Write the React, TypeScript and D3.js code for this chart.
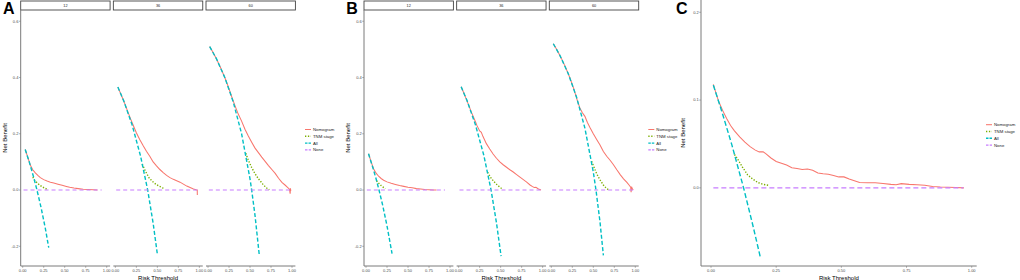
import React from "react";
import * as d3 from "d3";

// ---------- data ----------
const facetLabels = ["12", "36", "60"];
const legendLabels = ["Nomogram", "TNM stage", "All", "None"];
const xTicks = [0, 0.25, 0.5, 0.75, 1];
const xTickLabels = ["0.00", "0.25", "0.50", "0.75", "1.00"];
const yTicksAB = [-0.2, 0, 0.2, 0.4, 0.6];
const yTickLabelsAB = ["-0.2", "0.0", "0.2", "0.4", "0.6"];
const yTicksC = [0, 0.1, 0.2];
const yTickLabelsC = ["0.0", "0.1", "0.2"];

type P = [number, number];

// Panel A
const A12_nomogram: P[] = [[0.03,0.144],[0.06,0.117],[0.09,0.089],[0.12,0.072],[0.15,0.061],[0.18,0.052],[0.21,0.044],[0.25,0.037],[0.29,0.032],[0.33,0.028],[0.37,0.025],[0.42,0.021],[0.47,0.017],[0.52,0.013],[0.56,0.010],[0.61,0.007],[0.66,0.005],[0.72,0.003],[0.78,0.002],[0.84,0.001],[0.89,0.0]];
const A12_tnm: P[] = [[0.12,0.046],[0.14,0.036],[0.17,0.026],[0.20,0.018],[0.23,0.012],[0.26,0.007],[0.29,0.003]];
const A12_all: P[] = [[0.03,0.144],[0.08,0.098],[0.13,0.046],[0.17,0.0],[0.22,-0.064],[0.27,-0.137],[0.31,-0.205]];
const A12_none: P[] = [[0.01,0],[0.94,0]];

const A36_nomogram: P[] = [[0.03,0.366],[0.07,0.338],[0.11,0.309],[0.15,0.277],[0.18,0.254],[0.21,0.232],[0.25,0.204],[0.29,0.180],[0.33,0.158],[0.37,0.138],[0.41,0.120],[0.45,0.100],[0.49,0.086],[0.53,0.073],[0.57,0.062],[0.61,0.052],[0.65,0.044],[0.69,0.038],[0.73,0.033],[0.77,0.028],[0.81,0.021],[0.85,0.014],[0.89,0.009],[0.93,0.004],[0.96,0.001],[0.975,0.0],[0.976,-0.018]];
const A36_tnm: P[] = [[0.32,0.092],[0.36,0.066],[0.40,0.044],[0.44,0.031],[0.48,0.021],[0.52,0.014],[0.56,0.008],[0.59,0.005]];
const A36_all: P[] = [[0.03,0.366],[0.10,0.317],[0.20,0.231],[0.30,0.121],[0.385,0.0],[0.45,-0.118],[0.50,-0.228]];
const A36_none: P[] = [[0.01,0],[0.98,0]];

const A60_nomogram: P[] = [[0.02,0.510],[0.06,0.489],[0.10,0.467],[0.15,0.435],[0.20,0.400],[0.25,0.360],[0.29,0.325],[0.33,0.293],[0.36,0.270],[0.40,0.245],[0.44,0.216],[0.48,0.192],[0.52,0.170],[0.56,0.149],[0.60,0.133],[0.64,0.117],[0.68,0.102],[0.72,0.087],[0.76,0.073],[0.80,0.059],[0.84,0.042],[0.88,0.027],[0.92,0.017],[0.95,0.009],[0.97,0.003],[0.978,-0.013],[0.982,0.006],[0.985,-0.004]];
const A60_tnm: P[] = [[0.45,0.131],[0.48,0.106],[0.52,0.080],[0.56,0.058],[0.60,0.040],[0.65,0.022],[0.69,0.009],[0.73,0.001]];
const A60_all: P[] = [[0.02,0.510],[0.10,0.467],[0.20,0.400],[0.30,0.314],[0.40,0.200],[0.50,0.040],[0.52,0.0],[0.56,-0.091],[0.61,-0.230]];
const A60_none: P[] = [[0.01,0],[0.98,0]];

// Panel B
const B12_nomogram: P[] = [[0.03,0.129],[0.06,0.101],[0.09,0.076],[0.12,0.060],[0.15,0.049],[0.18,0.041],[0.21,0.035],[0.25,0.029],[0.30,0.024],[0.35,0.020],[0.40,0.016],[0.45,0.013],[0.50,0.010],[0.55,0.008],[0.60,0.005],[0.65,0.004],[0.70,0.002],[0.75,0.001],[0.80,0.0],[0.84,0.0]];
const B12_tnm: P[] = [[0.125,0.033],[0.15,0.025],[0.18,0.016],[0.20,0.011],[0.23,0.005]];
const B12_all: P[] = [[0.03,0.129],[0.08,0.081],[0.12,0.040],[0.155,0.0],[0.20,-0.056],[0.25,-0.127],[0.31,-0.226]];
const B12_none: P[] = [[0.01,0],[0.94,0]];

const B36_nomogram: P[] = [[0.03,0.367],[0.07,0.339],[0.11,0.309],[0.15,0.278],[0.19,0.250],[0.22,0.228],[0.25,0.210],[0.27,0.205],[0.29,0.190],[0.33,0.165],[0.37,0.146],[0.41,0.128],[0.45,0.113],[0.49,0.100],[0.53,0.090],[0.57,0.081],[0.61,0.072],[0.65,0.064],[0.69,0.055],[0.73,0.046],[0.77,0.037],[0.81,0.028],[0.85,0.018],[0.88,0.012],[0.90,0.009],[0.92,0.010],[0.95,0.004],[0.98,0.0]];
const B36_tnm: P[] = [[0.345,0.063],[0.38,0.045],[0.42,0.030],[0.46,0.018],[0.50,0.008],[0.525,0.003]];
const B36_all: P[] = [[0.03,0.367],[0.10,0.318],[0.20,0.232],[0.30,0.123],[0.386,0.0],[0.45,-0.116],[0.505,-0.235]];
const B36_none: P[] = [[0.01,0],[0.98,0]];

const B60_nomogram: P[] = [[0.024,0.520],[0.07,0.497],[0.12,0.468],[0.17,0.436],[0.22,0.400],[0.27,0.358],[0.31,0.318],[0.34,0.292],[0.37,0.275],[0.40,0.262],[0.43,0.240],[0.46,0.222],[0.50,0.200],[0.54,0.180],[0.58,0.160],[0.62,0.137],[0.66,0.120],[0.70,0.106],[0.74,0.090],[0.78,0.072],[0.82,0.055],[0.86,0.040],[0.90,0.027],[0.93,0.016],[0.945,0.010],[0.95,-0.008],[0.955,0.012],[0.965,0.004],[0.975,0.0]];
const B60_tnm: P[] = [[0.48,0.102],[0.51,0.080],[0.54,0.058],[0.58,0.036],[0.62,0.018],[0.65,0.008],[0.68,0.001]];
const B60_all: P[] = [[0.024,0.520],[0.10,0.480],[0.20,0.415],[0.30,0.331],[0.40,0.220],[0.50,0.064],[0.532,0.0],[0.58,-0.114],[0.62,-0.232]];
const B60_none: P[] = [[0.01,0],[0.98,0]];

// Panel C
const C_nomogram: P[] = [[0.009,0.118],[0.02,0.107],[0.03,0.098],[0.045,0.088],[0.06,0.079],[0.075,0.071],[0.09,0.065],[0.11,0.058],[0.13,0.052],[0.15,0.047],[0.17,0.043],[0.185,0.041],[0.20,0.041],[0.21,0.039],[0.23,0.034],[0.25,0.030],[0.27,0.028],[0.29,0.026],[0.31,0.023],[0.33,0.022],[0.35,0.021],[0.37,0.0215],[0.39,0.020],[0.41,0.017],[0.43,0.016],[0.45,0.0155],[0.47,0.014],[0.49,0.0125],[0.51,0.0125],[0.53,0.010],[0.55,0.008],[0.57,0.006],[0.60,0.0058],[0.63,0.0058],[0.66,0.005],[0.69,0.004],[0.71,0.0035],[0.73,0.0048],[0.76,0.004],[0.79,0.0035],[0.82,0.003],[0.85,0.0015],[0.88,0.001],[0.91,0.0008],[0.94,0.0005],[0.97,0.0]];
const C_tnm: P[] = [[0.09,0.038],[0.10,0.034],[0.12,0.024],[0.14,0.015],[0.16,0.010],[0.18,0.006],[0.20,0.004],[0.22,0.003]];
const C_all: P[] = [[0.009,0.117],[0.04,0.0885],[0.08,0.049],[0.125,0.0],[0.16,-0.042],[0.19,-0.080]];
const C_none: P[] = [[0.009,0],[0.968,0]];

// ---------- styles ----------
const COLORS = ["#F8766D", "#7CAE00", "#00BFC4", "#C77CFF"];
const FONT = "'Liberation Sans', Arial, sans-serif";
const AXIS = "#7a7a7a";
const TICKTEXT = "#4d4d4d";

type Series = { nomogram: P[]; tnm: P[]; all: P[]; none: P[] };

const seriesA: Series[] = [
  { nomogram: A12_nomogram, tnm: A12_tnm, all: A12_all, none: A12_none },
  { nomogram: A36_nomogram, tnm: A36_tnm, all: A36_all, none: A36_none },
  { nomogram: A60_nomogram, tnm: A60_tnm, all: A60_all, none: A60_none },
];
const seriesB: Series[] = [
  { nomogram: B12_nomogram, tnm: B12_tnm, all: B12_all, none: B12_none },
  { nomogram: B36_nomogram, tnm: B36_tnm, all: B36_all, none: B36_none },
  { nomogram: B60_nomogram, tnm: B60_tnm, all: B60_all, none: B60_none },
];
const seriesC: Series = { nomogram: C_nomogram, tnm: C_tnm, all: C_all, none: C_none };

const dashFor = (k: number, big: boolean) => {
  if (k === 1) return "1.3 1.6";
  if (k === 2) return big ? "5 2.5" : "4 2.2";
  if (k === 3) return big ? "5 3" : "4 3";
  return undefined;
};
const widthFor = (k: number) => (k === 0 ? 1.05 : k === 1 ? 1.4 : k === 2 ? 1.4 : 1.15);

function Lines({ s, x, y, big }: { s: Series; x: any; y: any; big: boolean }) {
  const line = d3.line<P>().x((d) => x(d[0])).y((d) => y(d[1]));
  const arr = [s.nomogram, s.tnm, s.all, s.none];
  return (
    <g>
      {arr.map((d, k) => (
        <path
          key={k}
          d={line(d) || ""}
          fill="none"
          stroke={COLORS[k]}
          strokeWidth={widthFor(k)}
          strokeDasharray={dashFor(k, big)}
        />
      ))}
    </g>
  );
}

function XAxis({ x, y0, left, right }: { x: any; y0: number; left: number; right: number }) {
  return (
    <g>
      <line x1={left} x2={right} y1={y0} y2={y0} stroke={AXIS} strokeWidth={1} />
      {xTicks.map((t, i) => (
        <g key={i}>
          <line x1={x(t)} x2={x(t)} y1={y0} y2={y0 + 1.8} stroke={AXIS} strokeWidth={0.6} />
          <text x={x(t)} y={y0 + 6.3} fontSize={4} fill={TICKTEXT} textAnchor="middle" fontFamily={FONT}>
            {xTickLabels[i]}
          </text>
        </g>
      ))}
    </g>
  );
}

function YAxis({ y, x0, top, bottom, ticks, labels }: any) {
  return (
    <g>
      <line x1={x0} x2={x0} y1={top} y2={bottom} stroke={AXIS} strokeWidth={1} />
      {ticks.map((t: number, i: number) => (
        <g key={i}>
          <line x1={x0 - 1.8} x2={x0} y1={y(t)} y2={y(t)} stroke={AXIS} strokeWidth={0.6} />
          <text x={x0 - 2.3} y={y(t) + 1.4} fontSize={4} fill={TICKTEXT} textAnchor="end" fontFamily={FONT}>
            {labels[i]}
          </text>
        </g>
      ))}
    </g>
  );
}

function Legend({ x, y, big }: { x: number; y: number; big: boolean }) {
  return (
    <g>
      {legendLabels.map((lab, k) => (
        <g key={k}>
          <line
            x1={x}
            x2={x + 6}
            y1={y + k * 6.8}
            y2={y + k * 6.8}
            stroke={COLORS[k]}
            strokeWidth={widthFor(k)}
            strokeDasharray={k === 2 ? "2.5 1" : k === 3 ? "2.5 1.2" : dashFor(k, big)}
          />
          <text x={x + 8} y={y + k * 6.8 + 1.5} fontSize={4.3} fill="#222" fontFamily={FONT}>
            {lab}
          </text>
        </g>
      ))}
    </g>
  );
}

function FacetPanel({ offset, series, letter }: { offset: number; series: Series[]; letter: string }) {
  const top = 10;
  const bottom = 266;
  const width = 89.4;
  const step = 92.65;
  const y = d3.scaleLinear().domain([-0.27, 0.64]).range([bottom, top]);
  const lefts = [0, 1, 2].map((i) => offset + 20.7 + i * step);
  return (
    <g>
      <text x={offset + 3} y={14} fontSize={16} fontWeight="bold" fontFamily={FONT} fill="#000">
        {letter}
      </text>
      {lefts.map((l, i) => {
        const x = d3.scaleLinear().domain([0, 1]).range([l + 2, l + 86]);
        return (
          <g key={i}>
            <rect x={l} y={1} width={width} height={9} fill="#fff" stroke="#444" strokeWidth={0.9} />
            <text x={l + width / 2} y={7} fontSize={3.8} textAnchor="middle" fill="#1a1a1a" fontFamily={FONT}>
              {facetLabels[i]}
            </text>
            <Lines s={series[i]} x={x} y={y} big={false} />
            <XAxis x={x} y0={bottom} left={l} right={l + width} />
          </g>
        );
      })}
      <YAxis y={y} x0={lefts[0]} top={top} bottom={bottom} ticks={yTicksAB} labels={yTickLabelsAB} />
      <text
        transform={`translate(${offset + 7},${(top + bottom) / 2}) rotate(-90)`}
        fontSize={6}
        textAnchor="middle"
        fontFamily={FONT}
        fill="#000"
      >
        Net Benefit
      </text>
      <text x={lefts[1] + width / 2} y={279.5} fontSize={6} textAnchor="middle" fontFamily={FONT} fill="#000">
        Risk Threshold
      </text>
      <Legend x={offset + 305} y={129.5} big={false} />
    </g>
  );
}

function PanelC() {
  const left = 701;
  const right = 976.7;
  const top = 0;
  const bottom = 266;
  const x = d3.scaleLinear().domain([0, 1]).range([711, 971.7]);
  const y = d3.scaleLinear().domain([-0.089, 0.214]).range([bottom, top]);
  return (
    <g>
      <text x={676} y={14} fontSize={16} fontWeight="bold" fontFamily={FONT} fill="#000">
        C
      </text>
      <Lines s={seriesC} x={x} y={y} big={true} />
      <XAxis x={x} y0={bottom} left={left} right={right} />
      <YAxis y={y} x0={left} top={top} bottom={bottom} ticks={yTicksC} labels={yTickLabelsC} />
      <text
        transform={`translate(${685},${(top + bottom) / 2}) rotate(-90)`}
        fontSize={6}
        textAnchor="middle"
        fontFamily={FONT}
        fill="#000"
      >
        Net Benefit
      </text>
      <text x={(left + right) / 2} y={279.5} fontSize={6} textAnchor="middle" fontFamily={FONT} fill="#000">
        Risk Threshold
      </text>
      <Legend x={986} y={124.7} big={true} />
    </g>
  );
}

export default function App() {
  return (
    <svg
      width={1020}
      height={280}
      viewBox="0 0 1020 280"
      style={{ position: "absolute", left: 0, top: 0, background: "#fff" }}
    >
      <rect x={0} y={0} width={1020} height={280} fill="#fff" />
      <FacetPanel offset={0} series={seriesA} letter="A" />
      <FacetPanel offset={343.3} series={seriesB} letter="B" />
      <PanelC />
    </svg>
  );
}
